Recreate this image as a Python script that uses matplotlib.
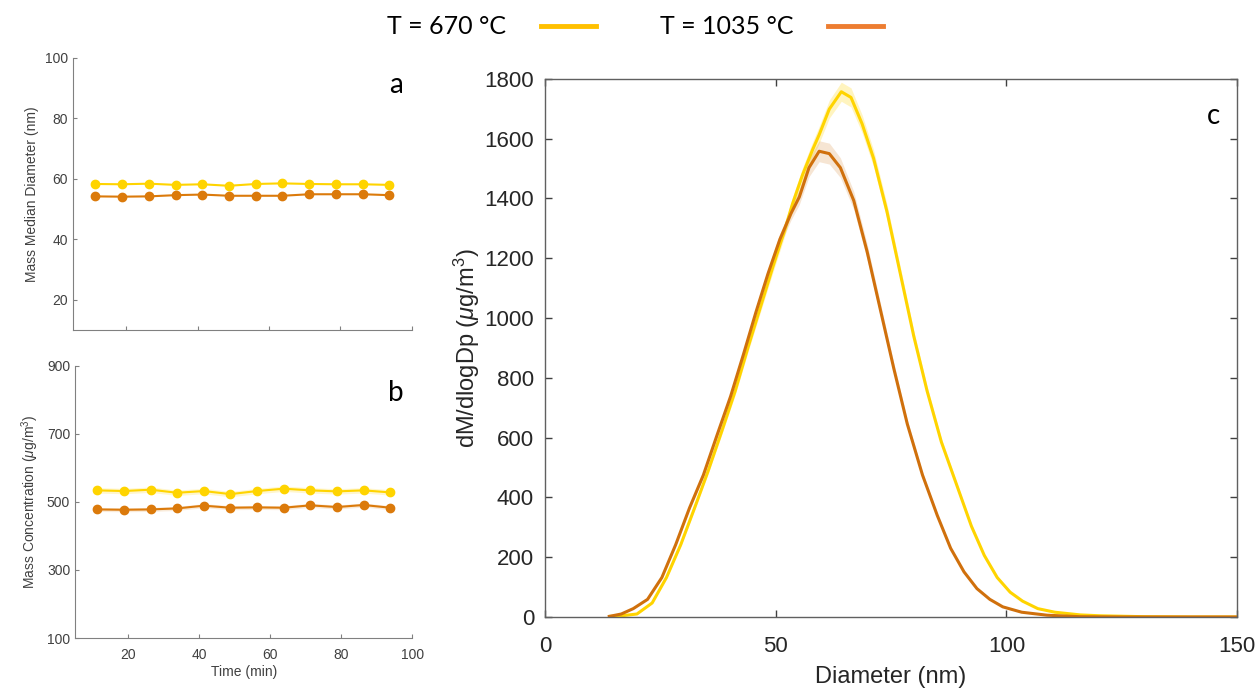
import matplotlib
matplotlib.use("Agg")
import matplotlib.pyplot as plt
from matplotlib.lines import Line2D

# ---------------- data ----------------
time_min = [11.25, 18.75, 26.25, 33.75, 41.25, 48.75, 56.25, 63.75, 71.25, 78.75, 86.25, 93.75]

mmd_670 = [58.3, 58.2, 58.4, 58.0, 58.2, 57.7, 58.3, 58.5, 58.3, 58.2, 58.2, 58.0]
mmd_1035 = [54.2, 54.1, 54.2, 54.6, 54.8, 54.4, 54.4, 54.4, 54.9, 54.9, 54.9, 54.6]

mc_670 = [534, 532, 536, 527, 532, 523, 532, 539, 534, 531, 534, 528]
mc_1035 = [478, 477, 478, 481, 489, 483, 484, 483, 490, 485, 491, 483]
mc_err_670 = [8, 8, 8, 8, 8, 8, 8, 8, 8, 8, 8, 8]
mc_err_1035 = [6, 6, 6, 6, 6, 6, 6, 6, 6, 6, 6, 6]

d_670 = [14, 16, 19.9, 23.2, 26.3, 29.4, 32.4, 35.3, 38.3, 41.2, 44.0, 46.7, 49.4, 51.7, 53.6,
         55.8, 58.0, 59.4, 61.6, 64.2, 66.3, 68.7, 71.2, 74.1, 77.0, 79.9, 82.8, 85.9, 89.3,
         92.4, 95.2, 98.0, 100.8, 103.5, 106.8, 110.5, 116, 120.4, 130, 140, 150]
v_670 = [2, 3, 10, 47, 132, 242, 365, 487, 622, 756, 903, 1038, 1173, 1283, 1381,
         1479, 1564, 1613, 1699, 1757, 1738, 1650, 1534, 1356, 1148, 940, 756, 585, 438,
         304, 206, 132, 83, 53, 28, 16, 7, 4, 1, 0, 0]
err_670 = [0, 0, 1, 2, 3, 5, 7, 9, 11, 13, 15, 17, 19, 20, 22,
           24, 26, 28, 30, 32, 32, 30, 28, 25, 22, 18, 15, 12, 9,
           7, 5, 4, 3, 2, 1, 1, 0, 0, 0, 0, 0]

d_1035 = [13.9, 16.5, 19.1, 22.2, 25.3, 28.3, 31.3, 34.3, 37.3, 40.2, 43.0, 45.7, 48.3, 50.9,
          53.3, 55.1, 57.2, 59.4, 61.6, 64.0, 66.9, 69.8, 72.7, 75.6, 78.5, 81.8, 85.0, 87.9,
          90.8, 93.6, 96.4, 99.2, 103.3, 108.8, 116, 125, 135, 150]
v_1035 = [2, 10, 28, 59, 132, 242, 365, 475, 610, 738, 879, 1020, 1148, 1264,
          1350, 1405, 1503, 1558, 1550, 1503, 1393, 1222, 1026, 830, 646, 475, 340, 230,
          151, 95, 59, 34, 16, 6, 1, 0, 0, 0]
err_1035 = [0, 0, 1, 2, 3, 4, 6, 8, 10, 12, 14, 16, 18, 20,
            22, 25, 30, 35, 35, 33, 30, 26, 22, 18, 14, 10, 7, 5,
            3, 2, 1, 1, 0, 0, 0, 0, 0, 0]

legend_labels = ["T = 670 °C", "T = 1035 °C"]

# ---------------- style ----------------
c_yel = "#FFD400"
c_org = "#DB7A0B"
c_org_c = "#D0700C"
leg_yel = "#FFC000"
leg_org = "#ED7D31"
axis_gray = "#404040"

plt.rcParams["font.family"] = ["Liberation Sans", "DejaVu Sans"]
plt.rcParams["mathtext.fontset"] = "custom"
plt.rcParams["mathtext.rm"] = "Liberation Sans"
plt.rcParams["mathtext.it"] = "Liberation Sans:italic"

fig = plt.figure(figsize=(12.59, 6.89), dpi=100)

def style_small(ax):
    for s in ["top", "right"]:
        ax.spines[s].set_visible(False)
    for s in ["left", "bottom"]:
        ax.spines[s].set_color("#808080")
        ax.spines[s].set_linewidth(0.8)
    ax.tick_params(direction="in", length=3, width=0.8, colors="#808080",
                   labelcolor=axis_gray, labelsize=10)
    ax.tick_params(axis="x", pad=7)

# Panel a
ax_a = fig.add_axes([0.058, 0.521, 0.269, 0.395])
ax_a.plot(time_min, mmd_670, "-o", color=c_yel, lw=1.5, ms=6)
ax_a.plot(time_min, mmd_1035, "-o", color=c_org, lw=1.5, ms=6)
ax_a.set_xlim(5, 100)
ax_a.set_ylim(10, 100)
ax_a.set_yticks([20, 40, 60, 80, 100])
ax_a.set_xticks([20, 40, 60, 80, 100])
ax_a.set_xticklabels([])
ax_a.set_ylabel("Mass Median Diameter (nm)", fontsize=10, color=axis_gray)
style_small(ax_a)
ax_a.text(0.975, 0.90, "a", transform=ax_a.transAxes, fontsize=20,
          ha="right", va="center", family=["Lato", "DejaVu Sans"])

# Panel b
ax_b = fig.add_axes([0.0596, 0.074, 0.268, 0.395])
lo = [v - e for v, e in zip(mc_670, mc_err_670)]
hi = [v + e for v, e in zip(mc_670, mc_err_670)]
ax_b.fill_between(time_min, lo, hi, color=c_yel, alpha=0.2, lw=0)
lo = [v - e for v, e in zip(mc_1035, mc_err_1035)]
hi = [v + e for v, e in zip(mc_1035, mc_err_1035)]
ax_b.fill_between(time_min, lo, hi, color=c_org, alpha=0.15, lw=0)
ax_b.plot(time_min, mc_670, "-o", color=c_yel, lw=1.5, ms=6)
ax_b.plot(time_min, mc_1035, "-o", color=c_org, lw=1.5, ms=6)
ax_b.set_xlim(5, 100)
ax_b.set_ylim(100, 900)
ax_b.set_yticks([100, 300, 500, 700, 900])
ax_b.set_xticks([20, 40, 60, 80, 100])
ax_b.set_ylabel(r"Mass Concentration ($\mu$g/m$^3$)", fontsize=10, color=axis_gray)
style_small(ax_b)
ax_b.set_xlabel("Time (min)", fontsize=10, color=axis_gray, labelpad=2)
ax_b.text(0.975, 0.90, "b", transform=ax_b.transAxes, fontsize=20,
          ha="right", va="center", family=["Lato", "DejaVu Sans"])

# Panel c
ax_c = fig.add_axes([0.433, 0.1045, 0.5496, 0.781])
lo = [v - e for v, e in zip(v_670, err_670)]
hi = [v + e for v, e in zip(v_670, err_670)]
ax_c.fill_between(d_670, lo, hi, color=c_yel, alpha=0.25, lw=0)
lo = [v - e for v, e in zip(v_1035, err_1035)]
hi = [v + e for v, e in zip(v_1035, err_1035)]
ax_c.fill_between(d_1035, lo, hi, color=c_org_c, alpha=0.18, lw=0)
ax_c.plot(d_670, v_670, color=c_yel, lw=2.2)
ax_c.plot(d_1035, v_1035, color=c_org_c, lw=2.2)
ax_c.set_xlim(0, 150)
ax_c.set_ylim(0, 1800)
ax_c.set_xticks([0, 50, 100, 150])
ax_c.set_yticks(range(0, 1801, 200))
ax_c.tick_params(direction="in", length=5, width=1, top=True, right=True,
                 labelsize=16, colors="#404040", labelcolor="#262626", pad=8)
ax_c.tick_params(axis="x", pad=14)
for s in ax_c.spines.values():
    s.set_color("#606060")
    s.set_linewidth(1.0)
ax_c.set_xlabel("Diameter (nm)", fontsize=17, color="#262626", labelpad=6)
ax_c.set_ylabel(r"dM/dlogDp ($\mu$g/m$^3$)", fontsize=17, color="#262626", labelpad=2)
ax_c.text(0.975, 0.955, "c", transform=ax_c.transAxes, fontsize=20,
          ha="right", va="top", family=["Lato", "DejaVu Sans"])

# Top legend
fig.text(387 / 1259, 0.962, legend_labels[0], fontsize=18, ha="left", va="center",
         family=["Lato", "DejaVu Sans"])
fig.add_artist(Line2D([541 / 1259, 596 / 1259], [0.962, 0.962], color=leg_yel, lw=3.5,
                      transform=fig.transFigure))
fig.text(660 / 1259, 0.962, legend_labels[1], fontsize=18, ha="left", va="center",
         family=["Lato", "DejaVu Sans"])
fig.add_artist(Line2D([828 / 1259, 883 / 1259], [0.962, 0.962], color=leg_org, lw=3.5,
                      transform=fig.transFigure))

fig.savefig("out.png", dpi=100)
